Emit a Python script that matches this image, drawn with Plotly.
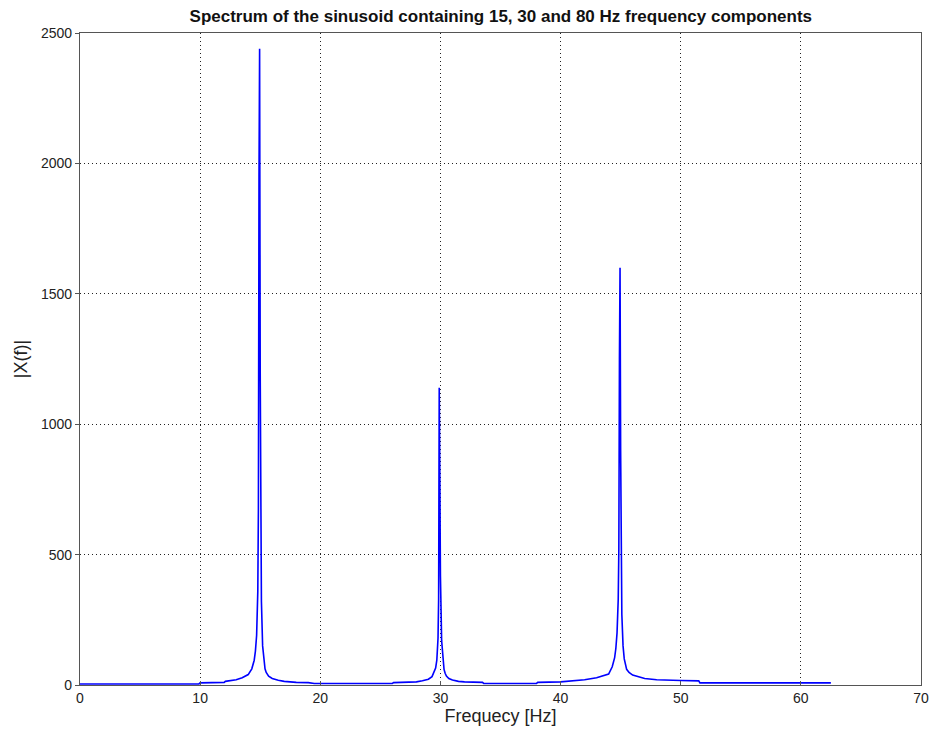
import plotly.graph_objects as go

# Frequency axis samples [Hz] and |X(f)| magnitudes
freq_hz = [
    0.0, 9.9, 10.0, 12.0, 12.1, 13.0, 13.5, 14.0, 14.3, 14.5, 14.6, 14.7, 14.8, 14.85,
    14.9, 14.95, 15.0, 15.05, 15.1, 15.2, 15.3, 15.4, 15.5, 15.7, 16.0, 16.5, 17.0,
    17.5, 18.0, 19.0, 19.5,
    20.0, 26.0, 26.1, 28.0, 28.5, 29.0, 29.3, 29.5, 29.6, 29.7, 29.8, 29.85, 29.9,
    29.95, 30.0, 30.1, 30.2, 30.3, 30.4, 30.5, 30.7, 31.0, 31.5, 32.0, 33.5, 33.6,
    38.0,
    38.1, 40.0, 41.0, 42.0, 43.0, 43.5, 44.0, 44.3, 44.5, 44.6, 44.7, 44.8, 44.85,
    44.9, 44.95, 45.0, 45.05, 45.1, 45.2, 45.3, 45.5, 45.7, 46.0, 46.5, 47.0, 48.0,
    49.0, 50.0, 51.5, 51.6, 62.5,
]
magnitude = [
    4, 4, 8, 10, 14, 20, 28, 40, 62, 95, 130, 190, 360, 680,
    1950, 2440, 1200, 560, 320, 150, 90, 62, 48, 34, 25, 18, 14,
    12, 10, 9, 6,
    6, 6, 9, 12, 16, 22, 32, 50, 65, 95, 180, 330, 1140,
    800, 420, 170, 95, 60, 44, 34, 25, 19, 14, 12, 10, 6,
    6,
    10, 12, 15, 20, 28, 34, 42, 70, 105, 140, 200, 330, 520,
    1250, 1600, 900, 450, 270, 150, 100, 60, 48, 38, 30, 25, 20,
    18, 17, 16, 8, 8,
]

x_ticks = [0, 10, 20, 30, 40, 50, 60, 70]
y_ticks = [0, 500, 1000, 1500, 2000, 2500]

fig = go.Figure()
fig.add_trace(go.Scatter(
    x=freq_hz, y=magnitude, mode="lines",
    line=dict(color="#0000ff", width=1.6),
    showlegend=False,
))

axis_common = dict(
    showgrid=True, gridcolor="#222222", griddash="1px,3px", gridwidth=1,
    showline=True, linecolor="#555555", linewidth=1.2, mirror=True,
    zeroline=False, automargin=False,
    tickfont=dict(family="Liberation Sans, Arial, sans-serif", size=14, color="#222222"),
    ticklen=4, tickcolor="#555555",
)

fig.update_layout(
    width=930, height=735,
    margin=dict(l=80, r=9, t=33, b=50),
    paper_bgcolor="white", plot_bgcolor="white",
    title=dict(
        text="<b>Spectrum of the sinusoid containing 15, 30 and 80 Hz frequency components</b>",
        x=0.5385, xanchor="center", y=0.978, yanchor="middle",
        font=dict(family="Liberation Sans, Arial, sans-serif", size=17, color="#111111"),
    ),
    xaxis=dict(
        range=[0, 70], tickvals=x_ticks, ticks="inside",
        title=dict(text="Frequecy [Hz]", standoff=4,
                   font=dict(family="Liberation Sans, Arial, sans-serif", size=18, color="#222222")),
        **axis_common,
    ),
    yaxis=dict(
        range=[0, 2500], tickvals=y_ticks, ticks="outside",
        title=dict(text="|X(f)|", standoff=8,
                   font=dict(family="Liberation Sans, Arial, sans-serif", size=18, color="#222222")),
        **axis_common,
    ),
)

fig.write_html("out.html")
